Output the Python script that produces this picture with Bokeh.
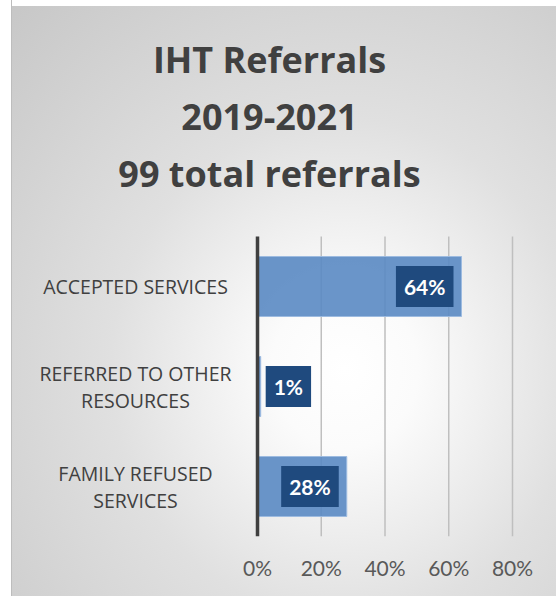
from bokeh.plotting import figure
from bokeh.models import ColumnDataSource, Range1d, FixedTicker, PrintfTickFormatter
from bokeh.core.properties import value
from bokeh.embed import file_html
from bokeh.resources import INLINE

# ---- data ----
categories = ["ACCEPTED SERVICES", "REFERRED TO OTHER\nRESOURCES", "FAMILY REFUSED\nSERVICES"]
percent = [64, 1, 28]
x_ticks = [0, 20, 40, 60, 80]
title_text = "IHT Referrals\n2019-2021\n99 total referrals"

# ---- layout (pixels) ----
W, H = 556, 596
PX_LEFT, PX_RIGHT, PX_TOP, PX_BOTTOM = 257, 512, 236, 536
x_max = x_ticks[-1]
kx = (PX_RIGHT - PX_LEFT) / x_max
n = len(categories)
ky = (PX_BOTTOM - PX_TOP) / n
ypos = [n - i - 0.5 for i in range(n)]   # category slots, first on top

LABEL_FONT = "Open Sans"
NUM_FONT = "Lato"

p = figure(width=W, height=H,
           x_range=Range1d(-PX_LEFT / kx, x_max + (W - PX_RIGHT) / kx),
           y_range=Range1d(0, n + PX_TOP / ky),
           output_backend="svg", toolbar_location=None, y_axis_location=None,
           min_border=0, min_border_bottom=H - PX_BOTTOM)
p.styles = {"background": (
    "linear-gradient(to right, #ffffff 11px, #bdbdbd 11px, #bdbdbd 12px, transparent 12px), "
    "linear-gradient(to bottom, #ffffff 6px, transparent 6px), "
    "radial-gradient(ellipse farthest-corner at 62% 62%, #ffffff 0%, #fbfbfb 15%, "
    "#e0e0e0 48%, #c6c6c6 100%)")}
p.background_fill_alpha = 0
p.border_fill_alpha = 0
p.outline_line_color = None
p.xgrid.grid_line_color = None
p.ygrid.grid_line_color = None

# grid lines over the category area
p.segment(x0=x_ticks[1:], x1=x_ticks[1:], y0=0, y1=n, line_color="#bfbfbf", line_width=1.5)

src = ColumnDataSource(dict(y=ypos, cat=categories, pct=percent))
p.hbar(y="y", left=0, right="pct", height=0.6, source=src,
       fill_color="#5a8ac3", fill_alpha=0.9, line_color="#9dbbe0", line_width=1)
# zero line on top of bars
p.segment(x0=[x_ticks[0]], x1=[x_ticks[0]], y0=0, y1=n, line_color="#3f3f3f", line_width=3.5)

# value labels: inside end when the bar is long enough, otherwise just outside
inside = [i for i, v in enumerate(percent) if v >= 10]
outside = [i for i, v in enumerate(percent) if v < 10]
for idx, align, off in ((inside, "right", -8), (outside, "left", 5)):
    s = ColumnDataSource(dict(y=[ypos[i] for i in idx],
                              pct=[percent[i] for i in idx],
                              lbl=[f"{percent[i]}%" for i in idx]))
    p.text(x="pct", y="y", text="lbl", source=s, text_align=align, text_baseline="middle",
           x_offset=off, text_font=value(NUM_FONT), text_font_style="bold",
           text_font_size="21px", text_color="white",
           background_fill_color="#1f4a7e", padding=8)

# category labels
p.text(x=0, y="y", text="cat", source=src, x_offset=-122, text_align="center",
       text_baseline="middle", text_font=value(LABEL_FONT), text_font_size="19.5px",
       text_color="#404040", text_line_height=1.0)

# title
p.text(x=[0], y=[n], text=[title_text], x_offset=12, y_offset=-120, text_align="center",
       text_baseline="middle", text_font=value(LABEL_FONT), text_font_style="bold",
       text_font_size="36px", text_color="#404040", text_line_height=1.17)

# x axis
p.xaxis.ticker = FixedTicker(ticks=x_ticks)
p.xaxis.formatter = PrintfTickFormatter(format="%d%%")
p.xaxis.axis_line_color = None
p.xaxis.major_tick_line_color = None
p.xaxis.minor_tick_line_color = None
p.xaxis.major_label_text_font = NUM_FONT
p.xaxis.major_label_text_font_size = "21px"
p.xaxis.major_label_text_color = "#595959"
p.xaxis.major_label_standoff = 12

open("out.html", "w").write(file_html(p, INLINE))
